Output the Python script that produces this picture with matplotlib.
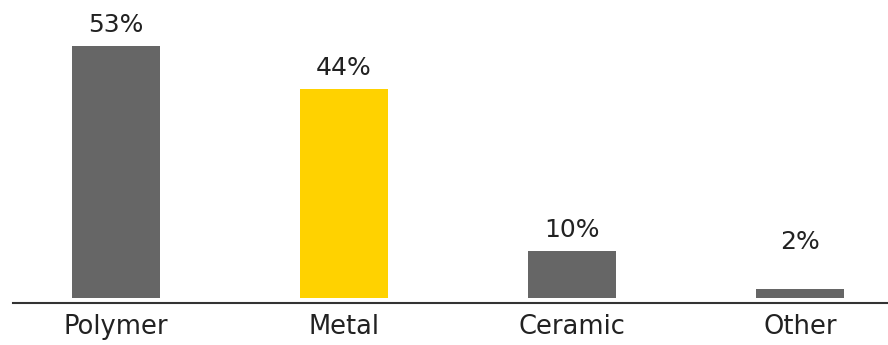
import matplotlib
matplotlib.use("Agg")
import matplotlib.pyplot as plt

categories = ["Polymer", "Metal", "Ceramic", "Other"]
values = [53, 44, 10, 2]
labels = ["53%", "44%", "10%", "2%"]
colors = ["#666666", "#FFD200", "#666666", "#666666"]

fig = plt.figure(figsize=(8.88, 3.45), dpi=100)
ax = fig.add_axes([13/888, 42/345, 1 - 13/888, 1 - 42/345])

x = range(len(categories))
ax.bar(x, values, width=0.386, color=colors, zorder=2)

ax.set_xlim(-0.452, 3.386)
ax.set_ylim(-1.0, 62.7)

for i, (v, lab) in enumerate(zip(values, labels)):
    y = max(v, 7.5)
    ax.annotate(lab, (i, y), xytext=(0, 15), textcoords="offset points",
                ha="center", va="center", fontsize=18, color="#222222",
                family="DejaVu Sans")

for s in ["top", "right", "left"]:
    ax.spines[s].set_visible(False)
ax.spines["bottom"].set_color("#333333")
ax.spines["bottom"].set_linewidth(1.5)
ax.set_yticks([])
ax.set_xticks(list(x))
ax.set_xticklabels(categories, fontsize=18.5, color="#222222", family="DejaVu Sans")
ax.tick_params(axis="x", length=0, pad=8)
ax.patch.set_visible(False)

fig.savefig("out.png", dpi=100)
